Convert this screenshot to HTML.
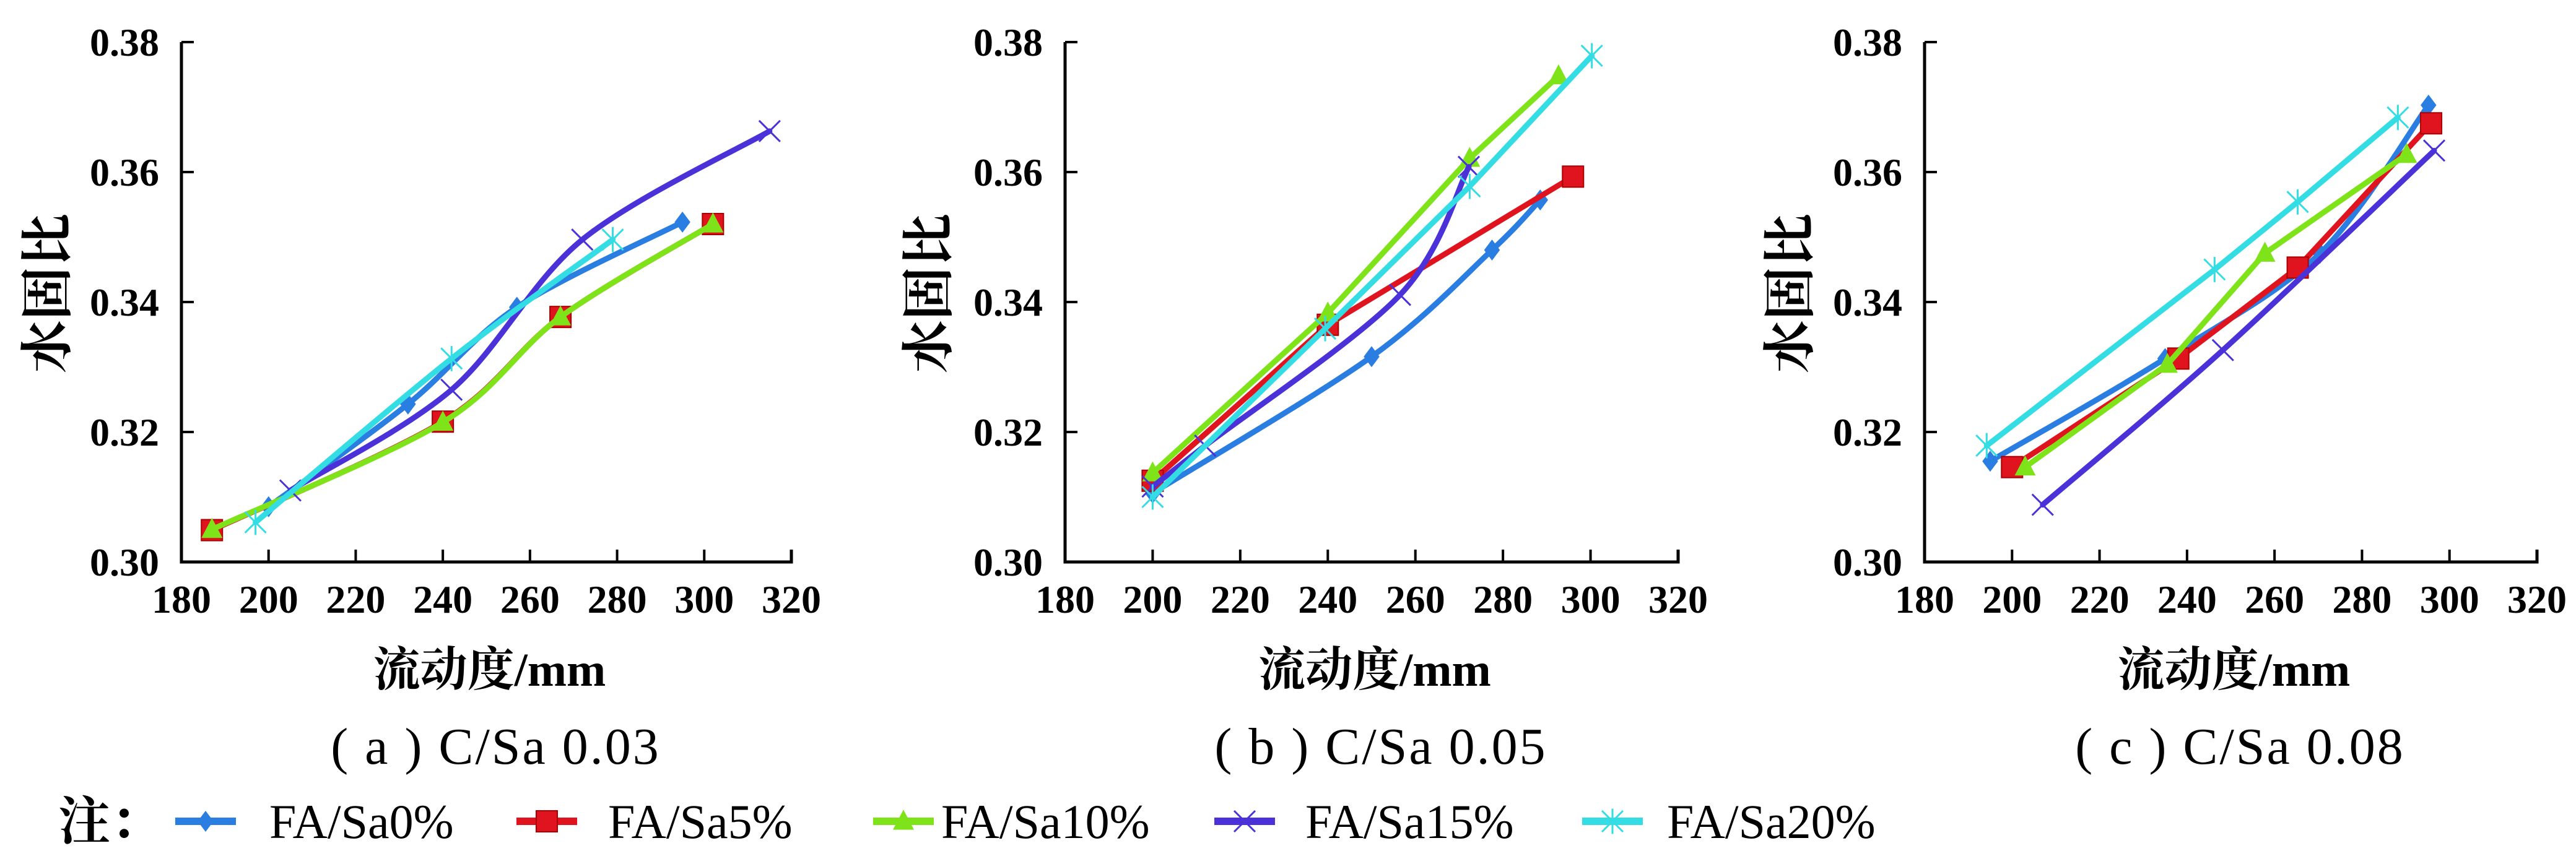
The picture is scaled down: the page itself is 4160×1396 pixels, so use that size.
<!DOCTYPE html>
<html><head><meta charset="utf-8"><style>
html,body{margin:0;padding:0;background:#fff;}
svg{display:block;}
</style></head><body>
<svg id="chart" width="4160" height="1396" viewBox="0 0 4160 1396" xmlns="http://www.w3.org/2000/svg">
  <g id="panels"></g>
  <g id="legend" font-family="Liberation Serif, Noto Serif CJK SC, serif" font-size="78">
    <text x="94" y="1356" font-size="84" font-weight="bold" font-family="Noto Serif CJK SC, serif">注：</text>
  </g>
</svg>
<script>
const xTicks = [180, 200, 220, 240, 260, 280, 300, 320];
const yTicks = [0.30, 0.32, 0.34, 0.36, 0.38];
const yTickLabels = ["0.30", "0.32", "0.34", "0.36", "0.38"];
const seriesNames = ["FA/Sa0%", "FA/Sa5%", "FA/Sa10%", "FA/Sa15%", "FA/Sa20%"];
const panelCaptions = ["( a ) C/Sa 0.03", "( b ) C/Sa 0.05", "( c ) C/Sa 0.08"];

// Panel a
const aX0 = [200, 232, 257, 295];        const aY0 = [0.3085, 0.3243, 0.3392, 0.3523];
const aX1 = [187, 240, 267, 302];        const aY1 = [0.3049, 0.3216, 0.3377, 0.3520];
const aX2 = [187, 240, 267, 302];        const aY2 = [0.3050, 0.3215, 0.3377, 0.3520];
const aX3 = [205, 242, 272, 315];        const aY3 = [0.3110, 0.3265, 0.3496, 0.3663];
const aX4 = [197, 242, 279];             const aY4 = [0.3061, 0.3313, 0.3496];
// Panel b
const bX0 = [200, 250, 277.5, 288.5];    const bY0 = [0.3106, 0.3316, 0.3480, 0.3557];
const bX1 = [200, 240, 296];             const bY1 = [0.3125, 0.3365, 0.3593];
const bX2 = [200, 240, 272.4, 292.7];    const bY2 = [0.3137, 0.3383, 0.3621, 0.3748];
const bX3 = [200, 212, 256.5, 272.2];    const bY3 = [0.3116, 0.3179, 0.3411, 0.3608];
const bX4 = [200, 239.4, 272.4, 300.3];  const bY4 = [0.3100, 0.3359, 0.3578, 0.3779];
// Panel c
const cX0 = [195, 235, 270.4, 295.2];    const cY0 = [0.3155, 0.3313, 0.3475, 0.3703];
const cX1 = [200, 238, 265.3, 295.8];    const cY1 = [0.3146, 0.3313, 0.3453, 0.3675];
const cX2 = [203, 235.5, 257.8, 290.2];  const cY2 = [0.3146, 0.3304, 0.3475, 0.3627];
const cX3 = [207, 248.2, 296.5];         const cY3 = [0.3088, 0.3326, 0.3633];
const cX4 = [194.2, 246.3, 265.3, 288.2];const cY4 = [0.3179, 0.3450, 0.3554, 0.3684];

const panelData = [
  [[aX0,aY0],[aX1,aY1],[aX2,aY2],[aX3,aY3],[aX4,aY4]],
  [[bX0,bY0],[bX1,bY1],[bX2,bY2],[bX3,bY3],[bX4,bY4]],
  [[cX0,cY0],[cX1,cY1],[cX2,cY2],[cX3,cY3],[cX4,cY4]]
];
const colors = ["#2a7de1", "#e0141e", "#7fe31a", "#4a32d8", "#33dde3"];
const layouts = [
  {left:293, right:1278, ytitleX:76, panel:'a'},
  {left:1720, right:2710, ytitleX:1499, panel:'b'},
  {left:3108, right:4097, ytitleX:2890, panel:'c'}
];
const TOP = 68, BOT = 908;
const NS = "http://www.w3.org/2000/svg";
function mk(tag, attrs, parent){ const e=document.createElementNS(NS,tag); for(const k in attrs) e.setAttribute(k,attrs[k]); if(parent) parent.appendChild(e); return e; }

function smoothPath(pts){
  if(pts.length<3){ return "M"+pts.map(p=>p[0]+","+p[1]).join(" L"); }
  let d="M"+pts[0][0]+","+pts[0][1];
  for(let i=0;i<pts.length-1;i++){
    const p0=pts[i-1]||pts[i], p1=pts[i], p2=pts[i+1], p3=pts[i+2]||p2;
    const t=0.16;
    const c1=[p1[0]+(p2[0]-p0[0])*t, p1[1]+(p2[1]-p0[1])*t];
    const c2=[p2[0]-(p3[0]-p1[0])*t, p2[1]-(p3[1]-p1[1])*t];
    d+=" C"+c1[0]+","+c1[1]+" "+c2[0]+","+c2[1]+" "+p2[0]+","+p2[1];
  }
  return d;
}

function marker(g, si, x, y, s){
  const c=colors[si];
  let m;
  if(si===0){ m=mk('polygon',{points:`${x},${y-s} ${x+s*0.75},${y} ${x},${y+s} ${x-s*0.75},${y}`,fill:c},g); }
  else if(si===1){ m=mk('rect',{x:x-s,y:y-s,width:2*s,height:2*s,fill:c,stroke:'#a00',"stroke-width":2},g); }
  else if(si===2){ m=mk('polygon',{points:`${x},${y-s*1.1} ${x+s},${y+s*0.8} ${x-s},${y+s*0.8}`,fill:c},g); }
  else if(si===3){ m=mk('path',{d:`M${x-s},${y-s} L${x+s},${y+s} M${x-s},${y+s} L${x+s},${y-s}`,stroke:c,"stroke-width":3,fill:'none'},g); }
  else { m=mk('path',{d:`M${x-s},${y-s} L${x+s},${y+s} M${x-s},${y+s} L${x+s},${y-s} M${x},${y-s*1.2} L${x},${y+s*1.2}`,stroke:c,"stroke-width":3,fill:'none'},g); }
  
  
  return m;
}

const panels=document.getElementById('panels');
layouts.forEach((L,pi)=>{
  const g=mk('g',{},panels);
  
  
  const sx=v=>L.left+(v-180)/140*(L.right-L.left);
  const sy=v=>BOT-(v-0.30)/0.08*(BOT-TOP);
  const sg=mk('g',{},g);
  
  
  panelData[pi].forEach((s,si)=>{
    const pts=s[0].map((xv,i)=>[sx(xv),sy(s[1][i])]);
    const smooth = (pi===0 || si===0 || si===3);
    const p=mk('path',{d: smooth?smoothPath(pts):("M"+pts.map(q=>q[0]+","+q[1]).join(" L")),stroke:colors[si],"stroke-width":9,fill:'none',"stroke-linejoin":'round',"stroke-linecap":'round'},sg);
    
    
    pts.forEach(q=>marker(sg,si,q[0],q[1], si===1?17:17));
  });
  const ax=mk('path',{d:`M${L.left},${TOP} L${L.left},${BOT} L${L.right},${BOT} L${L.right},${BOT-20}`,stroke:'#000',"stroke-width":5,fill:'none'},g);
  
  
  yTicks.forEach((v,i)=>{
    const y=sy(v);
    const t=mk('line',{x1:L.left,x2:L.left+20,y1:y,y2:y,stroke:'#000',"stroke-width":4},g);
    
    
    const tx=mk('text',{x:L.left-36,y:y+22,"text-anchor":'end',"font-family":"Liberation Serif, serif","font-weight":'bold',"font-size":64},g);
    tx.textContent=yTickLabels[i];
    
    
  });
  xTicks.forEach(v=>{
    const x=sx(v);
    const t=mk('line',{x1:x,x2:x,y1:BOT,y2:BOT-20,stroke:'#000',"stroke-width":4},g);
    
    
    const tx=mk('text',{x:x,y:990,"text-anchor":'middle',"font-family":"Liberation Serif, serif","font-weight":'bold',"font-size":64},g);
    tx.textContent=String(v);
    
    
  });
  const cx=(L.left+L.right)/2;
  const xt=mk('text',{x:cx+5,y:1108,"text-anchor":'middle',"font-family":"Liberation Serif, Noto Serif CJK SC, serif","font-weight":'bold',"font-size":76},g);
  xt.textContent='流动度/mm';
  
  
  const cap=mk('text',{x:cx+15,y:1234,"text-anchor":'middle',"font-family":"Liberation Serif, Noto Serif CJK SC, serif","font-size":84,"letter-spacing":3},g);
  cap.textContent=panelCaptions[pi];
  
  
  const yt=mk('text',{x:0,y:0,"text-anchor":'middle',transform:`translate(${L.ytitleX+30},474) rotate(-90)`,"font-family":"Noto Serif CJK SC, serif","font-weight":'bold',"font-size":86},g);
  yt.textContent='水固比';
  
  
});

const legend=document.getElementById('legend');
const legMarkX=[283, 834, 1410, 1961, 2555];
const legTextX=[435, 982, 1520, 2108, 2692];
seriesNames.forEach((n,si)=>{
  const g=mk('g',{},legend);
  
  
  const y=1327;
  const l=mk('line',{x1:legMarkX[si],x2:legMarkX[si]+98,y1:y,y2:y,stroke:colors[si],"stroke-width":12},g);
  
  
  marker(g,si,legMarkX[si]+49,y,17);
  const t=mk('text',{x:legTextX[si],y:1354},g);
  t.textContent=n;
  
  
});
</script>
</body></html>
